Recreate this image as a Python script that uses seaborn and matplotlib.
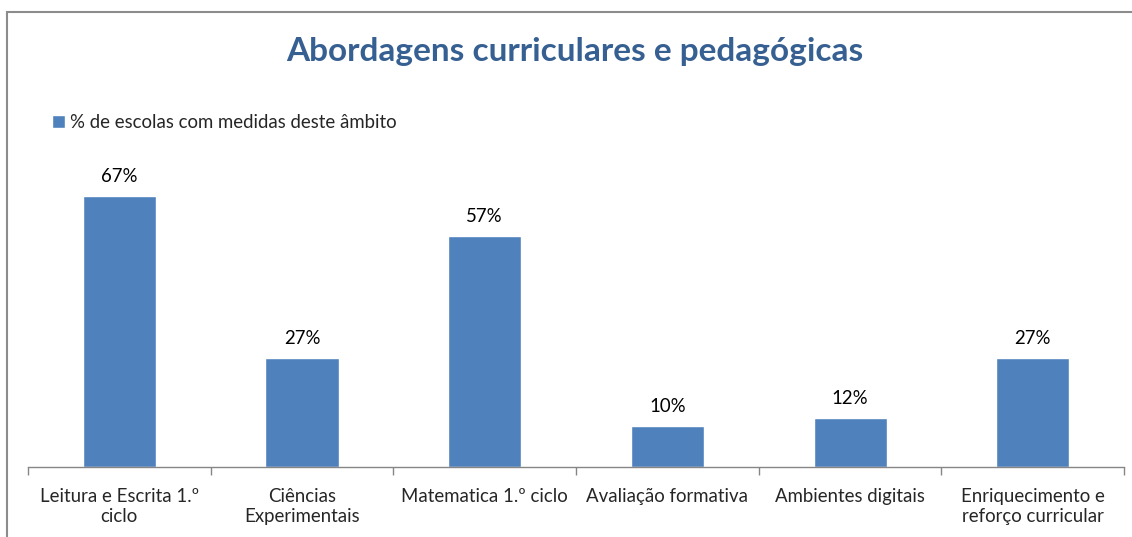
import matplotlib
matplotlib.use("Agg")
import matplotlib.pyplot as plt
from matplotlib.patches import Rectangle
from matplotlib.ticker import FixedLocator
import pandas as pd
import seaborn as sns

categories = [
    "Leitura e Escrita 1.º\nciclo",
    "Ciências\nExperimentais",
    "Matematica 1.º ciclo",
    "Avaliação formativa",
    "Ambientes digitais",
    "Enriquecimento e\nreforço curricular",
]
values = [67, 27, 57, 10, 12, 27]
series_name = "% de escolas com medidas deste âmbito"
title = "Abordagens curriculares e pedagógicas"

bar_color = "#4F81BD"

sns.set_style("white")
plt.rcParams["font.family"] = ["Lato", "DejaVu Sans"]

df = pd.DataFrame({"Categoria": categories, "Valor": values})

fig = plt.figure(figsize=(11.32, 5.37), dpi=100)
ax = fig.add_axes([0.0247, 0.1304, 0.9683, 0.6033])

sns.barplot(data=df, x="Categoria", y="Valor", color=bar_color, width=0.4,
            saturation=1, ax=ax, label=series_name)

ax.set_ylim(0, 80)
ax.set_xlim(-0.5, len(categories) - 0.5)
ax.set_xlabel("")
ax.set_ylabel("")
ax.set_yticks([])

for c in ax.containers:
    ax.bar_label(c, labels=[f"{v}%" for v in values], padding=8, fontsize=13.4,
                 color="#000000")

# axis line and boundary ticks like the Excel chart
for s in ["top", "right", "left"]:
    ax.spines[s].set_visible(False)
ax.spines["bottom"].set_color("#868686")
ax.spines["bottom"].set_linewidth(1)
ax.xaxis.set_minor_locator(FixedLocator([i - 0.5 for i in range(len(categories) + 1)]))
ax.tick_params(axis="x", which="minor", length=6, width=1, color="#868686", direction="out", bottom=True)
ax.tick_params(axis="x", which="major", length=0, labelsize=13.4, pad=15)
for t in ax.get_xticklabels():
    t.set_linespacing(1.25)

# legend top-left
leg = ax.legend(loc="center left", bbox_to_anchor=(0.015, 1.062), frameon=False, fontsize=13.4,
                handlelength=0.7, handleheight=0.7, handletextpad=0.3, borderaxespad=0)

fig.text(0.508, 0.905, title, ha="center", va="center", fontsize=24,
         fontweight="bold", color="#376092")

# chart area border (top and left visible)
fig.patches.append(Rectangle((0.0062, -0.1), 1.2, 1.0785, transform=fig.transFigure,
                             fill=False, edgecolor="#8C8C8C", linewidth=1.5))

plt.savefig("out.png", dpi=100)
